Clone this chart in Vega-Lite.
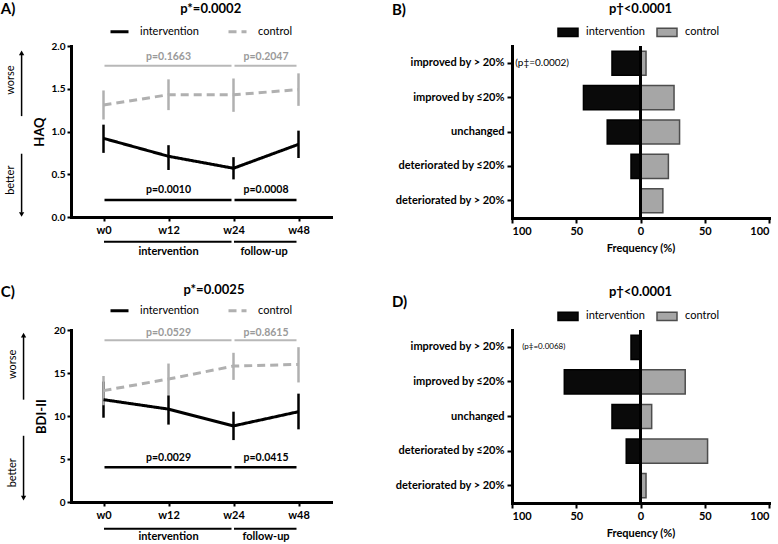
{
 "$schema": "https://vega.github.io/schema/vega-lite/v6.json",
 "background": "white",
 "padding": {"left": 0, "top": 2, "right": 2, "bottom": 0},
 "spacing": 26,
 "resolve": {"scale": {"color": "independent", "stroke": "independent", "strokeDash": "independent"}},
 "config": {
  "font": "Lato",
  "view": {"stroke": null},
  "axis": {"domainColor": "#000", "domainWidth": 3, "domainCap": "square", "tickColor": "#000", "tickWidth": 2, "tickSize": 5, "labelColor": "#000", "labelFontWeight": "bold", "labelFontSize": 10, "titleColor": "#000", "titleFontWeight": "bold", "titleFontSize": 11, "grid": false, "labelPadding": 2},
  "legend": {"layout": {"top": {"anchor": "middle"}}, "labelColor": "#000", "labelFontSize": 11, "padding": 0},
  "text": {"color": "#000"}
 },
 "vconcat": [
  {
   "spacing": 60,
   "resolve": {"scale": {"color": "independent", "stroke": "independent", "strokeDash": "independent"}},
   "hconcat": [
    {
     "width": 260, "height": 171,
     "resolve": {"scale": {"x": "independent", "y": "independent"}},
     "layer": [
      {
       "data": {"values": [
        {"week": "w0", "group": "intervention", "mean": 0.92, "lo": 0.75, "hi": 1.08},
        {"week": "w12", "group": "intervention", "mean": 0.71, "lo": 0.55, "hi": 0.84},
        {"week": "w24", "group": "intervention", "mean": 0.57, "lo": 0.44, "hi": 0.70},
        {"week": "w48", "group": "intervention", "mean": 0.85, "lo": 0.69, "hi": 1.01},
        {"week": "w0", "group": "control", "mean": 1.31, "lo": 1.14, "hi": 1.48},
        {"week": "w12", "group": "control", "mean": 1.43, "lo": 1.25, "hi": 1.61},
        {"week": "w24", "group": "control", "mean": 1.43, "lo": 1.23, "hi": 1.62},
        {"week": "w48", "group": "control", "mean": 1.49, "lo": 1.30, "hi": 1.68}
       ]},
       "layer": [
        {"mark": {"type": "rule", "strokeWidth": 2.5},
         "encoding": {
          "x": {"field": "week", "type": "nominal", "scale": {"type": "point", "domain": ["w0", "w12", "w24", "w48"], "padding": 0.5}, "axis": {"title": null, "labelFontSize": 11, "labelAngle": 0, "labelPadding": 3, "tickSize": 4}},
          "y": {"field": "lo", "type": "quantitative", "scale": {"domain": [0, 2], "nice": false, "zero": false}, "axis": {"values": [0, 0.5, 1, 1.5, 2], "format": ".1f", "title": "HAQ", "titleFontSize": 13, "titlePadding": 5, "tickSize": 4}},
          "y2": {"field": "hi"},
          "color": {"field": "group", "type": "nominal", "scale": {"domain": ["intervention", "control"], "range": ["#000000", "#b0b0b0"]},
                    "legend": {"orient": "top", "title": null, "offset": 8, "symbolType": "stroke", "symbolSize": 324, "symbolStrokeWidth": 3, "labelOffset": 10, "columnPadding": 23, "labelFontSize": 11}}
         }},
        {"mark": {"type": "line", "strokeWidth": 3},
         "encoding": {
          "x": {"field": "week", "type": "nominal", "scale": {"type": "point", "domain": ["w0", "w12", "w24", "w48"], "padding": 0.5}, "axis": {"title": null, "labelFontSize": 11, "labelAngle": 0, "labelPadding": 3, "tickSize": 4}},
          "y": {"field": "mean", "type": "quantitative", "scale": {"domain": [0, 2], "nice": false, "zero": false}, "axis": {"values": [0, 0.5, 1, 1.5, 2], "format": ".1f", "title": "HAQ", "titleFontSize": 13, "titlePadding": 5, "tickSize": 4}},
          "color": {"field": "group", "type": "nominal", "scale": {"domain": ["intervention", "control"], "range": ["#000000", "#b0b0b0"]},
                    "legend": {"orient": "top", "title": null, "offset": 8, "symbolType": "stroke", "symbolSize": 324, "symbolStrokeWidth": 3, "labelOffset": 10, "columnPadding": 23, "labelFontSize": 11}},
          "strokeDash": {"field": "group", "type": "nominal", "scale": {"domain": ["intervention", "control"], "range": [[1, 0], [8, 5]]},
                    "legend": {"orient": "top", "title": null, "offset": 8, "symbolType": "stroke", "symbolSize": 324, "symbolStrokeWidth": 3, "labelOffset": 10, "columnPadding": 23, "labelFontSize": 11}}
         }},
        {"data": {"values": [{"from": "w0", "to": "w24"}, {"from": "w24", "to": "w48"}]},
         "mark": {"type": "rule", "strokeWidth": 2, "color": "#b8b8b8", "xOffset": 1, "x2Offset": -2},
         "encoding": {"x": {"field": "from", "type": "nominal", "scale": {"type": "point", "domain": ["w0", "w12", "w24", "w48"], "padding": 0.5}}, "x2": {"field": "to"}, "y": {"datum": 1.77, "type": "quantitative"}}},
        {"data": {"values": [{"from": "w0", "to": "w24"}, {"from": "w24", "to": "w48"}]},
         "mark": {"type": "rule", "strokeWidth": 2.5, "color": "#000", "xOffset": 1, "x2Offset": -2},
         "encoding": {"x": {"field": "from", "type": "nominal", "scale": {"type": "point", "domain": ["w0", "w12", "w24", "w48"], "padding": 0.5}}, "x2": {"field": "to"}, "y": {"datum": 0.2, "type": "quantitative"}}},
        {"data": {"values": [{"from": "w0", "to": "w24"}, {"from": "w24", "to": "w48"}]},
         "mark": {"type": "rule", "strokeWidth": 2, "color": "#000", "xOffset": 0.5, "x2Offset": -2},
         "encoding": {"x": {"field": "from", "type": "nominal", "scale": {"type": "point", "domain": ["w0", "w12", "w24", "w48"], "padding": 0.5}}, "x2": {"field": "to"}, "y": {"datum": -0.29, "type": "quantitative"}}}
       ]
      },
      {
       "layer": [
        {"data": {"values": [{"label": "A)"}]},
         "mark": {"type": "text", "align": "left", "baseline": "middle", "fontSize": 15, "fontWeight": "bold"},
         "encoding": {"x": {"datum": -1.58, "type": "quantitative", "scale": {"domain": [-0.5, 3.5], "nice": false, "zero": false}, "axis": null}, "y": {"datum": 2.43, "type": "quantitative", "scale": {"domain": [0, 2], "nice": false, "zero": false}, "axis": null}, "text": {"field": "label"}}},
        {"data": {"values": [{"label": "p*=0.0002"}]},
         "mark": {"type": "text", "align": "center", "baseline": "middle", "fontSize": 13, "fontWeight": "bold"},
         "encoding": {"x": {"datum": 1.65, "type": "quantitative", "axis": null}, "y": {"datum": 2.43, "type": "quantitative", "axis": null}, "text": {"field": "label"}}},
        {"data": {"values": [{"label": "p=0.1663", "mid": 1}, {"label": "p=0.2047", "mid": 2.5}]},
         "mark": {"type": "text", "align": "center", "baseline": "middle", "fontSize": 10.5, "fontWeight": "bold", "color": "#9a9a9a"},
         "encoding": {"x": {"field": "mid", "type": "quantitative", "axis": null}, "y": {"datum": 1.875, "type": "quantitative", "axis": null}, "text": {"field": "label"}}},
        {"data": {"values": [{"label": "p=0.0010", "mid": 1}, {"label": "p=0.0008", "mid": 2.5}]},
         "mark": {"type": "text", "align": "center", "baseline": "middle", "fontSize": 10.5, "fontWeight": "bold"},
         "encoding": {"x": {"field": "mid", "type": "quantitative", "axis": null}, "y": {"datum": 0.32, "type": "quantitative", "axis": null}, "text": {"field": "label"}}},
        {"data": {"values": [{"label": "intervention", "mid": 1}, {"label": "follow-up", "mid": 2.47}]},
         "mark": {"type": "text", "align": "center", "baseline": "middle", "fontSize": 11, "fontWeight": "bold"},
         "encoding": {"x": {"field": "mid", "type": "quantitative", "axis": null}, "y": {"datum": -0.41, "type": "quantitative", "axis": null}, "text": {"field": "label"}}},
        {"data": {"values": [{"label": "worse"}]},
         "mark": {"type": "rule", "strokeWidth": 1.5, "color": "#000"},
         "encoding": {"x": {"datum": -1.26, "type": "quantitative", "axis": null}, "y": {"datum": 1.18, "type": "quantitative", "axis": null}, "y2": {"datum": 1.9}}},
        {"data": {"values": [{"label": "better"}]},
         "mark": {"type": "rule", "strokeWidth": 1.5, "color": "#000"},
         "encoding": {"x": {"datum": -1.26, "type": "quantitative", "axis": null}, "y": {"datum": 0.74, "type": "quantitative", "axis": null}, "y2": {"datum": 0.05}}},
        {"data": {"values": [{"label": "worse"}]},
         "mark": {"type": "point", "shape": "triangle-up", "filled": true, "size": 28, "color": "#000", "opacity": 1},
         "encoding": {"x": {"datum": -1.26, "type": "quantitative", "axis": null}, "y": {"datum": 1.92, "type": "quantitative", "axis": null}}},
        {"data": {"values": [{"label": "better"}]},
         "mark": {"type": "point", "shape": "triangle-down", "filled": true, "size": 28, "color": "#000", "opacity": 1},
         "encoding": {"x": {"datum": -1.26, "type": "quantitative", "axis": null}, "y": {"datum": 0.03, "type": "quantitative", "axis": null}}},
        {"data": {"values": [{"label": "worse", "at": 1.6}, {"label": "better", "at": 0.43}]},
         "mark": {"type": "text", "align": "center", "baseline": "middle", "fontSize": 11, "angle": 270},
         "encoding": {"x": {"datum": -1.42, "type": "quantitative", "axis": null}, "y": {"field": "at", "type": "quantitative", "axis": null}, "text": {"field": "label"}}}
       ]
      }
     ]
    },
    {
     "width": 257, "height": 172,
     "resolve": {"scale": {"y": "independent"}},
     "layer": [
      {
       "data": {"values": [
        {"cat": "improved by > 20%", "group": "intervention", "pct": -22.2},
        {"cat": "improved by ≤20%", "group": "intervention", "pct": -44.4},
        {"cat": "unchanged", "group": "intervention", "pct": -25.9},
        {"cat": "deteriorated by ≤20%", "group": "intervention", "pct": -7.4},
        {"cat": "deteriorated by > 20%", "group": "intervention", "pct": 0},
        {"cat": "improved by > 20%", "group": "control", "pct": 4.3},
        {"cat": "improved by ≤20%", "group": "control", "pct": 26.1},
        {"cat": "unchanged", "group": "control", "pct": 30.4},
        {"cat": "deteriorated by ≤20%", "group": "control", "pct": 21.7},
        {"cat": "deteriorated by > 20%", "group": "control", "pct": 17.4}
       ]},
       "layer": [
        {"mark": {"type": "bar", "strokeWidth": 1.5},
         "encoding": {
          "y": {"field": "cat", "type": "nominal", "sort": ["improved by > 20%", "improved by ≤20%", "unchanged", "deteriorated by ≤20%", "deteriorated by > 20%"], "scale": {"paddingInner": 0.3, "paddingOuter": 0.15}, "axis": {"title": null, "labelFontSize": 11, "tickSize": 5, "labelPadding": 3}},
          "x": {"field": "pct", "type": "quantitative", "stack": null, "scale": {"domain": [-100, 100], "nice": false}, "axis": {"values": [-100, -50, 0, 50, 100], "labelExpr": "abs(datum.value)", "title": "Frequency (%)", "labelFontSize": 11, "titleFontSize": 11, "tickSize": 5, "titlePadding": 6}},
          "color": {"field": "group", "type": "nominal", "scale": {"domain": ["intervention", "control"], "range": ["#0a0a0a", "#a6a6a6"]},
                    "legend": {"orient": "top", "title": null, "offset": 6, "symbolType": "M-2,-0.84H2V0.84H-2Z", "symbolSize": 100, "symbolStrokeWidth": 1.5, "labelOffset": 12, "columnPadding": 9, "labelFontSize": 11}},
          "stroke": {"field": "group", "type": "nominal", "scale": {"domain": ["intervention", "control"], "range": ["#000000", "#4d4d4d"]},
                    "legend": {"orient": "top", "title": null, "offset": 6, "symbolType": "M-2,-0.84H2V0.84H-2Z", "symbolSize": 100, "symbolStrokeWidth": 1.5, "labelOffset": 12, "columnPadding": 9, "labelFontSize": 11}}
         }},
        {"mark": {"type": "rule", "strokeWidth": 3, "color": "#000"},
         "encoding": {"x": {"datum": 0, "type": "quantitative"}}},
        {"data": {"values": [{"label": "(p‡=0.0002)", "cat": "improved by > 20%"}]},
         "mark": {"type": "text", "align": "left", "baseline": "middle", "fontSize": 10},
         "encoding": {"x": {"datum": -97.5, "type": "quantitative"}, "y": {"field": "cat", "type": "nominal", "sort": ["improved by > 20%", "improved by ≤20%", "unchanged", "deteriorated by ≤20%", "deteriorated by > 20%"]}, "text": {"field": "label"}}}
       ]
      },
      {
       "layer": [
        {"data": {"values": [{"label": "B)"}]},
         "mark": {"type": "text", "align": "left", "baseline": "middle", "fontSize": 15, "fontWeight": "bold"},
         "encoding": {"x": {"datum": -193.4, "type": "quantitative"}, "y": {"datum": -1.55, "type": "quantitative", "scale": {"domain": [-0.5, 4.5], "reverse": true, "nice": false, "zero": false}, "axis": null}, "text": {"field": "label"}}},
        {"data": {"values": [{"label": "p†<0.0001"}]},
         "mark": {"type": "text", "align": "center", "baseline": "middle", "fontSize": 13, "fontWeight": "bold"},
         "encoding": {"x": {"datum": 0, "type": "quantitative"}, "y": {"datum": -1.58, "type": "quantitative", "axis": null}, "text": {"field": "label"}}}
       ]
      }
     ]
    }
   ]
  },
  {
   "spacing": 60,
   "resolve": {"scale": {"color": "independent", "stroke": "independent", "strokeDash": "independent"}},
   "hconcat": [
    {
     "width": 260, "height": 172,
     "resolve": {"scale": {"x": "independent", "y": "independent"}},
     "layer": [
      {
       "data": {"values": [
        {"week": "w0", "group": "intervention", "mean": 11.9, "lo": 9.8, "hi": 14.0},
        {"week": "w12", "group": "intervention", "mean": 10.8, "lo": 9.0, "hi": 12.4},
        {"week": "w24", "group": "intervention", "mean": 8.85, "lo": 7.2, "hi": 10.5},
        {"week": "w48", "group": "intervention", "mean": 10.5, "lo": 8.45, "hi": 12.6},
        {"week": "w0", "group": "control", "mean": 12.95, "lo": 11.25, "hi": 14.65},
        {"week": "w12", "group": "control", "mean": 14.3, "lo": 12.45, "hi": 16.1},
        {"week": "w24", "group": "control", "mean": 15.8, "lo": 14.2, "hi": 17.35},
        {"week": "w48", "group": "control", "mean": 16.0, "lo": 13.9, "hi": 18.0}
       ]},
       "layer": [
        {"mark": {"type": "rule", "strokeWidth": 2.5},
         "encoding": {
          "x": {"field": "week", "type": "nominal", "scale": {"type": "point", "domain": ["w0", "w12", "w24", "w48"], "padding": 0.5}, "axis": {"title": null, "labelFontSize": 11, "labelAngle": 0, "labelPadding": 3, "tickSize": 4}},
          "y": {"field": "lo", "type": "quantitative", "scale": {"domain": [0, 20], "nice": false, "zero": false}, "axis": {"values": [0, 5, 10, 15, 20], "title": "BDI-II", "titleFontSize": 13, "titlePadding": 5, "tickSize": 4}},
          "y2": {"field": "hi"},
          "color": {"field": "group", "type": "nominal", "scale": {"domain": ["intervention", "control"], "range": ["#000000", "#b0b0b0"]},
                    "legend": {"orient": "top", "title": null, "offset": 13, "symbolType": "stroke", "symbolSize": 324, "symbolStrokeWidth": 3, "labelOffset": 10, "columnPadding": 23, "labelFontSize": 11}}
         }},
        {"mark": {"type": "line", "strokeWidth": 3},
         "encoding": {
          "x": {"field": "week", "type": "nominal", "scale": {"type": "point", "domain": ["w0", "w12", "w24", "w48"], "padding": 0.5}, "axis": {"title": null, "labelFontSize": 11, "labelAngle": 0, "labelPadding": 3, "tickSize": 4}},
          "y": {"field": "mean", "type": "quantitative", "scale": {"domain": [0, 20], "nice": false, "zero": false}, "axis": {"values": [0, 5, 10, 15, 20], "title": "BDI-II", "titleFontSize": 13, "titlePadding": 5, "tickSize": 4}},
          "color": {"field": "group", "type": "nominal", "scale": {"domain": ["intervention", "control"], "range": ["#000000", "#b0b0b0"]},
                    "legend": {"orient": "top", "title": null, "offset": 13, "symbolType": "stroke", "symbolSize": 324, "symbolStrokeWidth": 3, "labelOffset": 10, "columnPadding": 23, "labelFontSize": 11}},
          "strokeDash": {"field": "group", "type": "nominal", "scale": {"domain": ["intervention", "control"], "range": [[1, 0], [8, 5]]},
                    "legend": {"orient": "top", "title": null, "offset": 13, "symbolType": "stroke", "symbolSize": 324, "symbolStrokeWidth": 3, "labelOffset": 10, "columnPadding": 23, "labelFontSize": 11}}
         }},
        {"data": {"values": [{"from": "w0", "to": "w24"}, {"from": "w24", "to": "w48"}]},
         "mark": {"type": "rule", "strokeWidth": 2, "color": "#b8b8b8", "xOffset": 1, "x2Offset": -2},
         "encoding": {"x": {"field": "from", "type": "nominal", "scale": {"type": "point", "domain": ["w0", "w12", "w24", "w48"], "padding": 0.5}}, "x2": {"field": "to"}, "y": {"datum": 18.8, "type": "quantitative"}}},
        {"data": {"values": [{"from": "w0", "to": "w24"}, {"from": "w24", "to": "w48"}]},
         "mark": {"type": "rule", "strokeWidth": 2.5, "color": "#000", "xOffset": 1, "x2Offset": -2},
         "encoding": {"x": {"field": "from", "type": "nominal", "scale": {"type": "point", "domain": ["w0", "w12", "w24", "w48"], "padding": 0.5}}, "x2": {"field": "to"}, "y": {"datum": 4.03, "type": "quantitative"}}},
        {"data": {"values": [{"from": "w0", "to": "w24"}, {"from": "w24", "to": "w48"}]},
         "mark": {"type": "rule", "strokeWidth": 2, "color": "#000", "xOffset": 0.5, "x2Offset": -2},
         "encoding": {"x": {"field": "from", "type": "nominal", "scale": {"type": "point", "domain": ["w0", "w12", "w24", "w48"], "padding": 0.5}}, "x2": {"field": "to"}, "y": {"datum": -3.1, "type": "quantitative"}}}
       ]
      },
      {
       "layer": [
        {"data": {"values": [{"label": "C)"}]},
         "mark": {"type": "text", "align": "left", "baseline": "middle", "fontSize": 15, "fontWeight": "bold"},
         "encoding": {"x": {"datum": -1.58, "type": "quantitative", "scale": {"domain": [-0.5, 3.5], "nice": false, "zero": false}, "axis": null}, "y": {"datum": 24.4, "type": "quantitative", "scale": {"domain": [0, 20], "nice": false, "zero": false}, "axis": null}, "text": {"field": "label"}}},
        {"data": {"values": [{"label": "p*=0.0025"}]},
         "mark": {"type": "text", "align": "center", "baseline": "middle", "fontSize": 13, "fontWeight": "bold"},
         "encoding": {"x": {"datum": 1.7, "type": "quantitative", "axis": null}, "y": {"datum": 24.6, "type": "quantitative", "axis": null}, "text": {"field": "label"}}},
        {"data": {"values": [{"label": "p=0.0529", "mid": 1}, {"label": "p=0.8615", "mid": 2.5}]},
         "mark": {"type": "text", "align": "center", "baseline": "middle", "fontSize": 10.5, "fontWeight": "bold", "color": "#9a9a9a"},
         "encoding": {"x": {"field": "mid", "type": "quantitative", "axis": null}, "y": {"datum": 19.7, "type": "quantitative", "axis": null}, "text": {"field": "label"}}},
        {"data": {"values": [{"label": "p=0.0029", "mid": 1}, {"label": "p=0.0415", "mid": 2.5}]},
         "mark": {"type": "text", "align": "center", "baseline": "middle", "fontSize": 10.5, "fontWeight": "bold"},
         "encoding": {"x": {"field": "mid", "type": "quantitative", "axis": null}, "y": {"datum": 5.15, "type": "quantitative", "axis": null}, "text": {"field": "label"}}},
        {"data": {"values": [{"label": "intervention", "mid": 1}, {"label": "follow-up", "mid": 2.5}]},
         "mark": {"type": "text", "align": "center", "baseline": "middle", "fontSize": 11, "fontWeight": "bold"},
         "encoding": {"x": {"field": "mid", "type": "quantitative", "axis": null}, "y": {"datum": -4.1, "type": "quantitative", "axis": null}, "text": {"field": "label"}}},
        {"data": {"values": [{"label": "worse"}]},
         "mark": {"type": "rule", "strokeWidth": 1.5, "color": "#000"},
         "encoding": {"x": {"datum": -1.23, "type": "quantitative", "axis": null}, "y": {"datum": 11.9, "type": "quantitative", "axis": null}, "y2": {"datum": 19.3}}},
        {"data": {"values": [{"label": "better"}]},
         "mark": {"type": "rule", "strokeWidth": 1.5, "color": "#000"},
         "encoding": {"x": {"datum": -1.23, "type": "quantitative", "axis": null}, "y": {"datum": 7.7, "type": "quantitative", "axis": null}, "y2": {"datum": 0.6}}},
        {"data": {"values": [{"label": "worse"}]},
         "mark": {"type": "point", "shape": "triangle-up", "filled": true, "size": 28, "color": "#000", "opacity": 1},
         "encoding": {"x": {"datum": -1.23, "type": "quantitative", "axis": null}, "y": {"datum": 19.4, "type": "quantitative", "axis": null}}},
        {"data": {"values": [{"label": "better"}]},
         "mark": {"type": "point", "shape": "triangle-down", "filled": true, "size": 28, "color": "#000", "opacity": 1},
         "encoding": {"x": {"datum": -1.23, "type": "quantitative", "axis": null}, "y": {"datum": 0.45, "type": "quantitative", "axis": null}}},
        {"data": {"values": [{"label": "worse", "at": 16.0}, {"label": "better", "at": 3.4}]},
         "mark": {"type": "text", "align": "center", "baseline": "middle", "fontSize": 11, "angle": 270},
         "encoding": {"x": {"datum": -1.4, "type": "quantitative", "axis": null}, "y": {"field": "at", "type": "quantitative", "axis": null}, "text": {"field": "label"}}}
       ]
      }
     ]
    },
    {
     "width": 257, "height": 173,
     "resolve": {"scale": {"y": "independent"}},
     "layer": [
      {
       "data": {"values": [
        {"cat": "improved by > 20%", "group": "intervention", "pct": -7.4},
        {"cat": "improved by ≤20%", "group": "intervention", "pct": -59.3},
        {"cat": "unchanged", "group": "intervention", "pct": -22.2},
        {"cat": "deteriorated by ≤20%", "group": "intervention", "pct": -11.1},
        {"cat": "deteriorated by > 20%", "group": "intervention", "pct": 0},
        {"cat": "improved by > 20%", "group": "control", "pct": 0},
        {"cat": "improved by ≤20%", "group": "control", "pct": 34.8},
        {"cat": "unchanged", "group": "control", "pct": 8.7},
        {"cat": "deteriorated by ≤20%", "group": "control", "pct": 52.2},
        {"cat": "deteriorated by > 20%", "group": "control", "pct": 4.3}
       ]},
       "layer": [
        {"mark": {"type": "bar", "strokeWidth": 1.5},
         "encoding": {
          "y": {"field": "cat", "type": "nominal", "sort": ["improved by > 20%", "improved by ≤20%", "unchanged", "deteriorated by ≤20%", "deteriorated by > 20%"], "scale": {"paddingInner": 0.3, "paddingOuter": 0.15}, "axis": {"title": null, "labelFontSize": 11, "tickSize": 5, "labelPadding": 3}},
          "x": {"field": "pct", "type": "quantitative", "stack": null, "scale": {"domain": [-100, 100], "nice": false}, "axis": {"values": [-100, -50, 0, 50, 100], "labelExpr": "abs(datum.value)", "title": "Frequency (%)", "labelFontSize": 11, "titleFontSize": 11, "tickSize": 5, "titlePadding": 6}},
          "color": {"field": "group", "type": "nominal", "scale": {"domain": ["intervention", "control"], "range": ["#0a0a0a", "#a6a6a6"]},
                    "legend": {"orient": "top", "title": null, "offset": 6, "symbolType": "M-2,-0.84H2V0.84H-2Z", "symbolSize": 100, "symbolStrokeWidth": 1.5, "labelOffset": 12, "columnPadding": 9, "labelFontSize": 11}},
          "stroke": {"field": "group", "type": "nominal", "scale": {"domain": ["intervention", "control"], "range": ["#000000", "#4d4d4d"]},
                    "legend": {"orient": "top", "title": null, "offset": 6, "symbolType": "M-2,-0.84H2V0.84H-2Z", "symbolSize": 100, "symbolStrokeWidth": 1.5, "labelOffset": 12, "columnPadding": 9, "labelFontSize": 11}}
         }},
        {"mark": {"type": "rule", "strokeWidth": 3, "color": "#000"},
         "encoding": {"x": {"datum": 0, "type": "quantitative"}}},
        {"data": {"values": [{"label": "(p‡=0.0068)", "cat": "improved by > 20%"}]},
         "mark": {"type": "text", "align": "left", "baseline": "middle", "fontSize": 8},
         "encoding": {"x": {"datum": -92, "type": "quantitative"}, "y": {"field": "cat", "type": "nominal", "sort": ["improved by > 20%", "improved by ≤20%", "unchanged", "deteriorated by ≤20%", "deteriorated by > 20%"]}, "text": {"field": "label"}}}
       ]
      },
      {
       "layer": [
        {"data": {"values": [{"label": "D)"}]},
         "mark": {"type": "text", "align": "left", "baseline": "middle", "fontSize": 15, "fontWeight": "bold"},
         "encoding": {"x": {"datum": -193.4, "type": "quantitative"}, "y": {"datum": -1.31, "type": "quantitative", "scale": {"domain": [-0.5, 4.5], "reverse": true, "nice": false, "zero": false}, "axis": null}, "text": {"field": "label"}}},
        {"data": {"values": [{"label": "p†<0.0001"}]},
         "mark": {"type": "text", "align": "center", "baseline": "middle", "fontSize": 13, "fontWeight": "bold"},
         "encoding": {"x": {"datum": 0, "type": "quantitative"}, "y": {"datum": -1.61, "type": "quantitative", "axis": null}, "text": {"field": "label"}}}
       ]
      }
     ]
    }
   ]
  }
 ]
}
